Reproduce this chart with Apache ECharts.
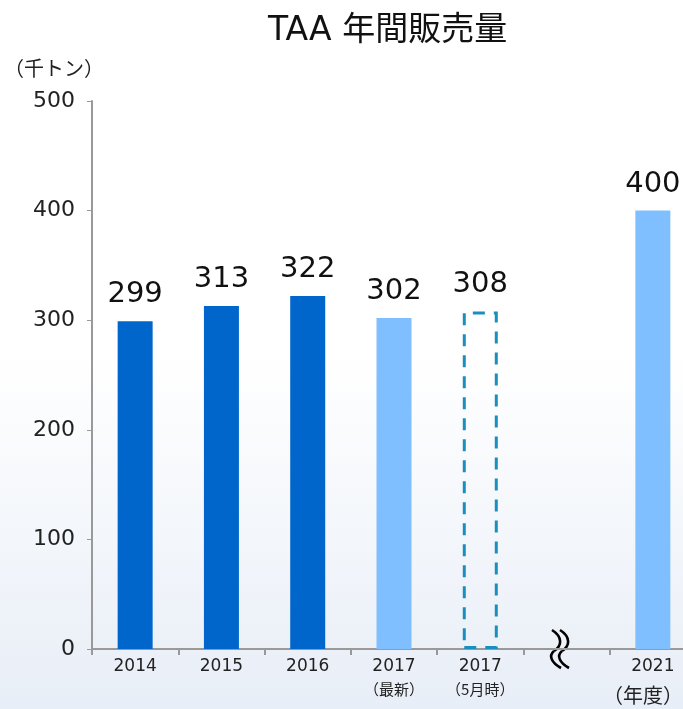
<!DOCTYPE html>
<html>
<head>
<meta charset="utf-8">
<script src="https://cdn.jsdelivr.net/npm/echarts@6/dist/echarts.min.js"></script>
<style>
  html, body { margin: 0; padding: 0; }
  #chart { width: 683px; height: 709px; }
</style>
</head>
<body>
<div id="chart"></div>
<script>
// データ
var categories = ['2014', '2015', '2016', '2017\n{s|（最新）}', '2017\n{s|（5月時）}', '', '2021']
var values = [299, 313, 322, 302, 308, '-', 400]
var barKinds = ['actual', 'actual', 'actual', 'latest', 'plan', 'gap', 'target']
var yTicks = [0, 100, 200, 300, 400, 500]

var dark = '#0066CC'
var light = '#80BFFF'
var dash = '#1A8FBE'
var numFont = '"DejaVu Sans", "Noto Sans CJK JP"'

var barData = values.map(function(v, i) {
    var k = barKinds[i]
    if (k === 'plan') {
        return {
            value: v,
            itemStyle: {
                color: 'rgba(0,0,0,0)',
                borderColor: dash,
                borderWidth: 3,
                borderType: [12, 9]
            }
        }
    }
    return { value: v, itemStyle: { color: k === 'actual' ? dark : light } }
})

// 省略記号（波線）
function wave(dx) {
    return [
        { type: 'bezierCurve', shape: { x1: 552 + dx, y1: 630, cpx1: 563 + dx, cpy1: 637, cpx2: 562 + dx, cpy2: 646, x2: 554 + dx, y2: 651 },
          style: { stroke: '#000', lineWidth: 2.6, fill: null } },
        { type: 'bezierCurve', shape: { x1: 554 + dx, y1: 651, cpx1: 548 + dx, cpy1: 656, cpx2: 552 + dx, cpy2: 663, x2: 561 + dx, y2: 668 },
          style: { stroke: '#000', lineWidth: 2.6, fill: null } }
    ]
}

var chart = echarts.init(document.getElementById('chart'))
var option = {
    backgroundColor: new echarts.graphic.LinearGradient(0, 0, 0, 1, [
        { offset: 0, color: '#ffffff' },
        { offset: 0.5, color: '#ffffff' },
        { offset: 1, color: '#E8EEF7' }
    ]),
    title: {
        text: 'TAA 年間販売量',
        left: 263,
        top: 10,
        textStyle: {
            fontFamily: numFont,
            fontSize: 33,
            fontWeight: 'normal',
            color: '#111'
        }
    },
    grid: { left: 92, top: 101, width: 604, height: 548, outerBoundsMode: 'none' },
    xAxis: {
        type: 'category',
        data: categories,
        axisLine: { lineStyle: { color: '#999', width: 2 } },
        axisTick: { show: true, interval: 0, length: 6, lineStyle: { color: '#999', width: 2 } },
        axisLabel: {
            interval: 0,
            color: '#222',
            fontSize: 17,
            margin: 8,
            lineHeight: 20,
            fontFamily: numFont,
            rich: { s: { fontSize: 15, lineHeight: 24, color: '#222', fontFamily: 'Noto Sans CJK JP' } }
        }
    },
    yAxis: {
        type: 'value',
        min: yTicks[0],
        max: yTicks[yTicks.length - 1],
        interval: 100,
        splitLine: { show: false },
        axisLine: { show: true, lineStyle: { color: '#999', width: 2 } },
        axisTick: { show: true, length: 5, lineStyle: { color: '#999', width: 1 } },
        axisLabel: { color: '#222', fontSize: 22, margin: 17, fontFamily: numFont }
    },
    series: [{
        type: 'bar',
        data: barData,
        barWidth: 35,
        label: {
            show: true,
            position: 'top',
            distance: 12,
            fontSize: 29,
            color: '#111',
            fontFamily: numFont
        }
    }],
    graphic: [
        { type: 'text', x: 4, y: 58, style: { text: '（千トン）', fontSize: 20, fill: '#222', fontFamily: 'Noto Sans CJK JP' } },
        { type: 'text', x: 603, y: 685, style: { text: '（年度）', fontSize: 20, fill: '#222', fontFamily: 'Noto Sans CJK JP' } }
    ].concat(wave(0), wave(8))
}
chart.setOption(option)
window.addEventListener('resize', function() { chart.resize() })
</script>
</body>
</html>
